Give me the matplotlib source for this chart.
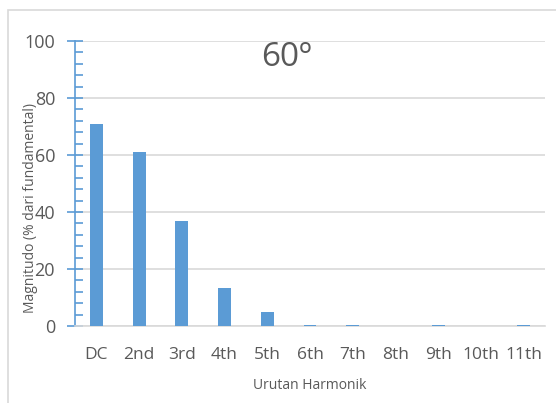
import matplotlib
matplotlib.use("Agg")
import matplotlib.pyplot as plt
from matplotlib.patches import Rectangle
from matplotlib.ticker import MultipleLocator

harmonics = ["DC", "2nd", "3rd", "4th", "5th", "6th", "7th", "8th", "9th", "10th", "11th"]
magnitude = [71.0, 61.0, 37.0, 13.3, 5.0, 0.3, 0.3, 0.0, 0.3, 0.1, 0.3]
y_ticks = [0, 20, 40, 60, 80, 100]

bar_color = "#5b9bd5"
text_color = "#595959"
grid_color = "#d9d9d9"

plt.rcParams["font.family"] = ["Open Sans", "DejaVu Sans"]

W, H = 556, 403
fig = plt.figure(figsize=(W / 100, H / 100), dpi=100)
fig.patch.set_facecolor("white")

# chart frame (continues past the right and bottom edges)
fig.patches.append(Rectangle((8 / W, -0.5), 2.0, 1.5 - 10 / H,
                             transform=fig.transFigure, fill=False,
                             edgecolor=grid_color, linewidth=1.2))

ax = fig.add_axes([75 / W, (H - 326) / H, (545 - 75) / W, (326 - 41) / H])
x = list(range(len(harmonics)))
ax.bar(x, magnitude, width=0.3, color=bar_color, zorder=3)

ax.set_xlim(-0.5, len(harmonics) - 0.5)
ax.set_ylim(0, 100)
ax.set_yticks(y_ticks)
ax.yaxis.set_minor_locator(MultipleLocator(4))
ax.grid(axis="y", color=grid_color, linewidth=1.2, zorder=0)

for s in ["top", "right"]:
    ax.spines[s].set_visible(False)
ax.spines["bottom"].set_color(grid_color)
ax.spines["bottom"].set_linewidth(1.2)
ax.spines["left"].set_color(bar_color)
ax.spines["left"].set_linewidth(1.2)

ax.tick_params(axis="y", which="major", direction="inout", length=12, width=1.2,
               color=bar_color, labelsize=13, labelcolor=text_color, pad=8.4)
ax.tick_params(axis="y", which="minor", direction="in", length=6, width=1.2,
               color=bar_color)
ax.set_xticks(x)
ax.set_xticklabels(harmonics)
ax.tick_params(axis="x", length=0, labelsize=12.5, labelcolor=text_color, pad=15)

ax.set_xlabel("Urutan Harmonik", fontsize=10, color=text_color, labelpad=11)
ax.set_ylabel("Magnitudo (% dari fundamental)", fontsize=10, color=text_color)
ax.yaxis.set_label_coords(-0.079, 0.415)

fig.text(286 / W, 1 - 66 / H, "60º", fontsize=24, color=text_color,
         ha="center", va="baseline")

fig.savefig("out.png", dpi=100)
